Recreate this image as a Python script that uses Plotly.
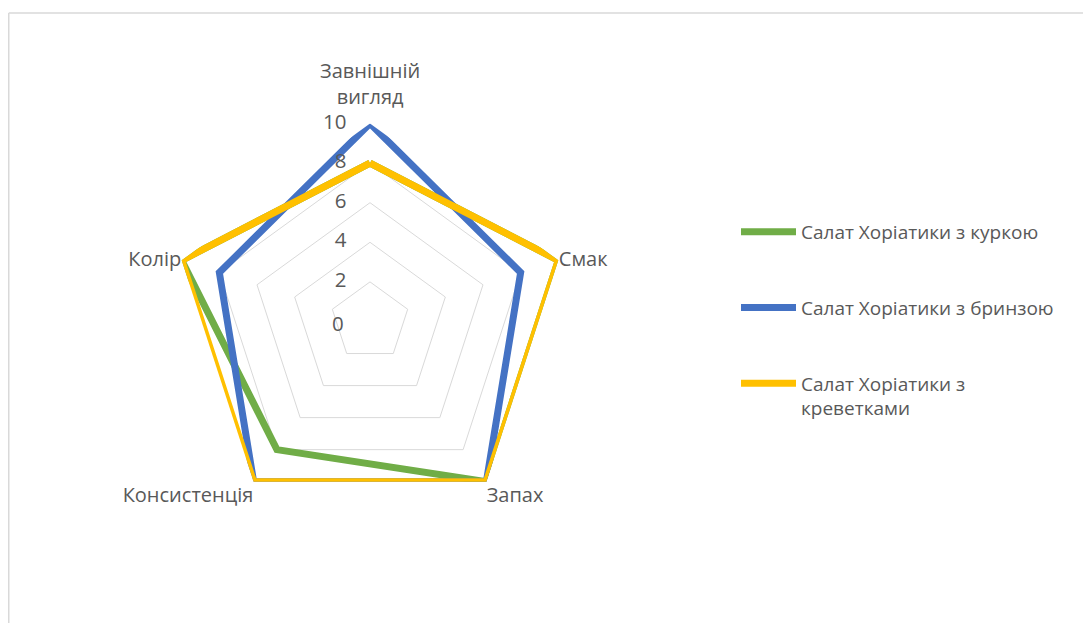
import plotly.graph_objects as go

categories = ["Завнішній<br>вигляд", "Смак", "Запах", "Консистенція", "Колір"]
series_names = ["Салат Хоріатики з куркою", "Салат Хоріатики з бринзою", "Салат Хоріатики з<br>креветками"]
chicken = [8, 10, 10, 8, 10]
brynza = [10, 8, 10, 10, 8]
shrimp = [8, 10, 10, 10, 10]
colors = ["#70AD47", "#4472C4", "#FFC000"]
radial_ticks = [0, 2, 4, 6, 8, 10]

W, H = 1091, 623
cx, cy, R = 362, 313.5, 198
txt = "#595959"
fnt = "Open Sans"

fig = go.Figure()
for i, (name, vals) in enumerate(zip(series_names, [chicken, brynza, shrimp])):
    fig.add_trace(go.Scatterpolar(
        r=vals + vals[:1],
        theta=categories + categories[:1],
        mode="lines",
        name=name,
        legendgroup=f"g{i}",
        line=dict(color=colors[i], width=7),
    ))

# radial tick labels (non-zero), placed on the top spoke through the polar scales
nz_ticks = [v for v in radial_ticks if v > 0]
fig.add_trace(go.Scatterpolar(
    r=nz_ticks,
    theta=[categories[0]] * len(nz_ticks),
    mode="text",
    text=[f'{v}<span style="color:rgba(0,0,0,0)">00</span>' for v in nz_ticks],
    textposition="middle left",
    textfont=dict(family=fnt, size=20.5, color=txt),
    showlegend=False,
    hoverinfo="skip",
    cliponaxis=False,
))

# top category label placed as annotation (others via the angular axis)
ticktext = [""] + categories[1:]

fig.update_layout(
    width=W, height=H,
    paper_bgcolor="white",
    plot_bgcolor="white",
    margin=dict(l=0, r=0, t=0, b=0),
    font=dict(family=fnt, size=19, color=txt),
    polar=dict(
        domain=dict(x=[(cx - R) / W, (cx + R) / W], y=[(H - cy - R) / H, (H - cy + R) / H]),
        gridshape="linear",
        bgcolor="white",
        radialaxis=dict(
            range=[-0.001, 10], tickvals=radial_ticks[1:], angle=90,
            showticklabels=False,
            showline=False, ticks="", gridcolor="#D9D9D9", gridwidth=1.3,
        ),
        angularaxis=dict(
            direction="clockwise", rotation=90, showgrid=False, showline=False,
            tickvals=categories, ticktext=ticktext,
            ticks="", tickfont=dict(size=20, color=txt),
        ),
    ),
    legend=dict(
        x=728 / W, xanchor="left", y=1 - 205 / H, yanchor="top",
        itemwidth=55, tracegroupgap=48, valign="top",
        font=dict(size=19, color=txt),
    ),
    annotations=[
        dict(text=categories[0], x=cx / W, y=1 - 76 / H, xref="paper", yref="paper",
             xanchor="center", yanchor="middle", showarrow=False,
             font=dict(family=fnt, size=20, color=txt)),
        # label for the centre value (0) of the radial axis
        dict(text=str(radial_ticks[0]), x=cx / W, y=1 - cy / H, xref="paper", yref="paper",
             xanchor="right", yanchor="middle", xshift=-24, yshift=-1, showarrow=False,
             font=dict(family=fnt, size=20.5, color=txt)),
    ],
    shapes=[
        dict(type="line", xref="paper", yref="paper", x0=0.75 / W, x1=1.0, y0=1 - 5 / H, y1=1 - 5 / H,
             line=dict(color="#D9D9D9", width=1.5)),
        dict(type="line", xref="paper", yref="paper", x0=0.75 / W, x1=0.75 / W, y0=0, y1=1 - 5 / H,
             line=dict(color="#D9D9D9", width=1.5)),
    ],
)

fig.write_html("out.html")
